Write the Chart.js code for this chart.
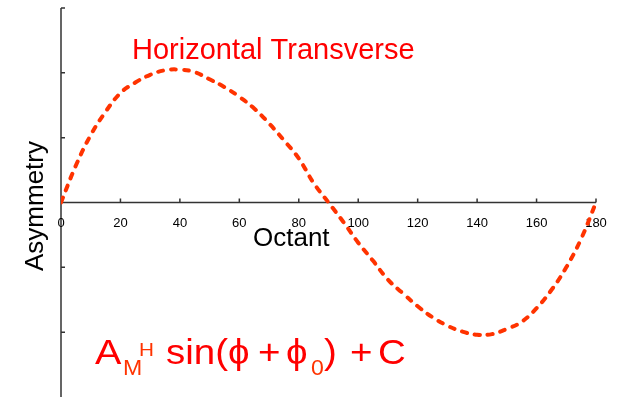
<!DOCTYPE html>
<html>
<head>
<meta charset="utf-8">
<script src="https://cdn.jsdelivr.net/npm/chart.js@4"></script>
<style>
  html, body { margin: 0; padding: 0; background: #fff; }
  #wrap { width: 619px; height: 397px; }
</style>
</head>
<body>
<div id="wrap"><canvas id="asym"></canvas></div>
<script>
// values
const octant = [0, 5, 10, 15, 20, 25, 30, 35, 40, 45, 50, 55, 60, 65, 70, 75, 80, 85, 90,
  95, 100, 105, 110, 115, 120, 125, 130, 135, 140, 145, 150, 155, 160, 165, 170, 175, 180];
const asymmetry = [0, 0.57, 1.04, 1.40, 1.69, 1.85, 1.97, 2.04, 2.05, 2.01, 1.90, 1.78, 1.63, 1.45, 1.22, 0.96, 0.68, 0.3, 0,
  -0.3, -0.62, -0.9, -1.19, -1.4, -1.6, -1.77, -1.9, -1.99, -2.04, -2.03, -1.95, -1.84, -1.63, -1.35, -1.0, -0.56, 0];
const xTicks = [0, 20, 40, 60, 80, 100, 120, 140, 160, 180];
const yTicks = [-2, -1, 1, 2, 3];

const points = octant.map(function(o, i){
  return { x: o, y: asymmetry[i] };
});

const FONT = '"Liberation Sans", Arial, sans-serif';

// text with a bit of horizontal stretch (the formula font is wider)
function stretchText(ctx, txt, x, y, size, sx, color) {
  ctx.save();
  ctx.translate(x, y);
  ctx.scale(sx, 1);
  ctx.font = size + 'px ' + FONT;
  ctx.fillStyle = color;
  ctx.fillText(txt, 0, 0);
  ctx.restore();
}

// draws the crossing axes and the text labels
const axesPlugin = {
  id: 'axesPlugin',
  beforeDatasetsDraw(chart) {
    const ctx = chart.ctx;
    const xs = chart.scales.x, ys = chart.scales.y;
    const area = chart.chartArea;
    const x0 = xs.getPixelForValue(0);
    const y0 = ys.getPixelForValue(0);
    ctx.save();
    ctx.strokeStyle = '#333';
    ctx.lineWidth = 1.5;
    ctx.beginPath();
    ctx.moveTo(x0, area.top);
    ctx.lineTo(x0, area.bottom);
    ctx.moveTo(area.left, y0);
    ctx.lineTo(area.right, y0);
    yTicks.forEach(function(v){
      const y = ys.getPixelForValue(v);
      ctx.moveTo(x0, y);
      ctx.lineTo(x0 + 4, y);
    });
    xTicks.forEach(function(v){
      if (v === 0) return;
      const x = xs.getPixelForValue(v);
      ctx.moveTo(x, y0);
      ctx.lineTo(x, y0 - 4);
    });
    ctx.stroke();

    ctx.fillStyle = '#000';
    ctx.font = '13px ' + FONT;
    ctx.textAlign = 'center';
    ctx.textBaseline = 'middle';
    xTicks.forEach(function(v){
      ctx.fillText(String(v), xs.getPixelForValue(v), y0 + 21);
    });
    ctx.restore();
  },
  afterDraw(chart) {
    const ctx = chart.ctx;
    ctx.save();
    ctx.textBaseline = 'alphabetic';
    ctx.textAlign = 'left';

    // axis titles
    ctx.fillStyle = '#000';
    ctx.font = '26px ' + FONT;
    ctx.fillText('Octant', 253, 246);
    ctx.save();
    ctx.translate(43, 206);
    ctx.rotate(-Math.PI / 2);
    ctx.textAlign = 'center';
    ctx.fillText('Asymmetry', 0, 0);
    ctx.restore();

    // series label
    ctx.fillStyle = '#ff0000';
    ctx.font = '29px ' + FONT;
    ctx.fillText('Horizontal Transverse', 132, 59);

    // formula  A_M^H sin(phi + phi_0) + C
    const red = '#ff0000', orange = '#ff3300';
    stretchText(ctx, 'A', 95, 364, 35, 1.13, red);
    stretchText(ctx, 'M', 123, 375, 22, 1.05, orange);
    stretchText(ctx, 'H', 139, 356, 18, 1.15, orange);
    stretchText(ctx, 'sin(\u03d5', 166, 364, 35, 1.1, red);
    stretchText(ctx, '+', 258, 364, 35, 1.1, red);
    stretchText(ctx, '\u03d5', 286, 364, 35, 1.1, red);
    stretchText(ctx, '0', 311, 375, 22, 1.05, orange);
    stretchText(ctx, ')', 324, 364, 35, 1.1, red);
    stretchText(ctx, '+', 350, 364, 35, 1.1, red);
    stretchText(ctx, 'C', 378, 364, 35, 1.1, red);
    ctx.restore();
  }
};

const ctx = document.getElementById('asym');

new Chart(ctx, {
  type: 'line',
  data: {
    datasets: [{
      data: points,
      borderColor: '#ff3300',
      borderWidth: 4,
      borderDash: [5, 8],
      borderCapStyle: 'round',
      pointRadius: 0,
      tension: 0.4,
      fill: false
    }]
  },
  options: {
    responsive: true,
    maintainAspectRatio: false,
    animation: false,
    layout: {
      padding: { left: 61, right: 23, top: 8, bottom: 0 }
    },
    plugins: {
      legend: { display: false },
      tooltip: { enabled: false },
      title: { display: false }
    },
    scales: {
      x: {
        type: 'linear',
        min: 0,
        max: 180,
        display: false
      },
      y: {
        min: -3,
        max: 3,
        display: false
      }
    }
  },
  plugins: [axesPlugin]
});
</script>
</body>
</html>
